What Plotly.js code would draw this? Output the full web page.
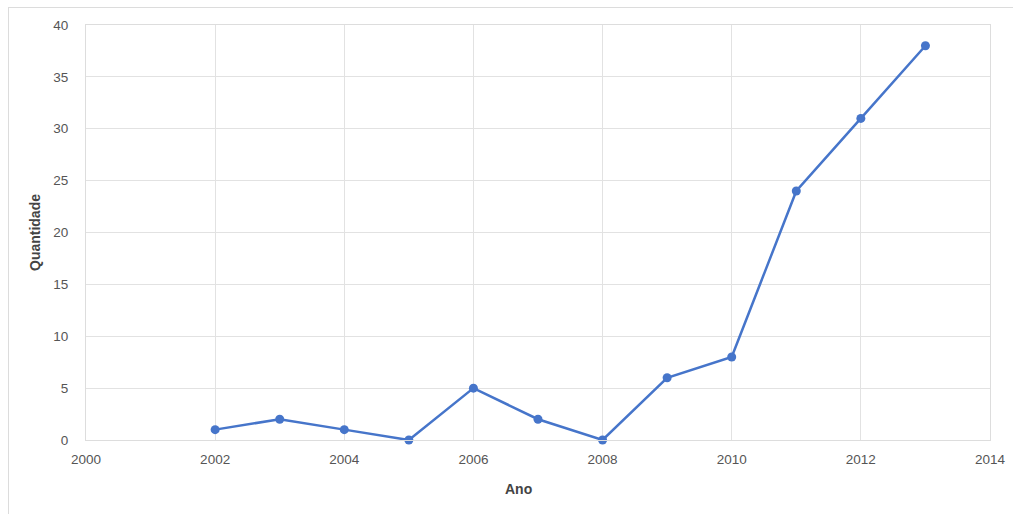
<!DOCTYPE html>
<html><head><meta charset="utf-8">
<script src="https://cdn.plot.ly/plotly-3.0.1.min.js"></script>
<style>
html,body{margin:0;padding:0;background:#fff;}
#chart{width:1013px;height:514px;}
#frame{position:absolute;left:8px;top:7px;width:1100px;height:600px;border-left:1px solid #dcdcdc;border-top:1px solid #dcdcdc;pointer-events:none;}
</style></head>
<body>
<div id="chart"></div>
<div id="frame"></div>
<script>
const anos = [2002, 2003, 2004, 2005, 2006, 2007, 2008, 2009, 2010, 2011, 2012, 2013];
const quantidade = [1, 2, 1, 0, 5, 2, 0, 6, 8, 24, 31, 38];
const xTicks = [2000, 2002, 2004, 2006, 2008, 2010, 2012, 2014];
const yTicks = [0, 5, 10, 15, 20, 25, 30, 35, 40];

const tickFont = {family: 'Liberation Sans, Arial, sans-serif', size: 13.5, color: '#555'};
const titleFont = {family: 'Liberation Sans, Arial, sans-serif', size: 14, color: '#444', weight: 'bold'};

Plotly.newPlot('chart', [{
  x: anos, y: quantidade, type: 'scatter', mode: 'lines+markers',
  line: {color: '#4675CA', width: 2.5},
  marker: {color: '#4675CA', size: 9},
  cliponaxis: false
}], {
  width: 1013, height: 514,
  margin: {l: 86, r: 23, t: 25, b: 74},
  paper_bgcolor: '#fff', plot_bgcolor: '#fff',
  showlegend: false,
  annotations: [{
    text: '<b>Ano</b>', xref: 'paper', yref: 'paper', x: 0.478, y: -0.118,
    xanchor: 'center', yanchor: 'middle', showarrow: false, font: titleFont
  }],
  xaxis: {
    range: [2000, 2014], tickvals: xTicks, ticktext: xTicks.map(String),
    showgrid: true, gridcolor: '#e2e2e2', gridwidth: 1,
    showline: true, linecolor: '#dddddd', linewidth: 1, mirror: true,
    zeroline: false, ticks: '', ticklabelstandoff: 7,
    tickfont: tickFont
  },
  yaxis: {
    range: [0, 40], tickvals: yTicks, ticktext: yTicks.map(String),
    showgrid: true, gridcolor: '#e2e2e2', gridwidth: 1,
    showline: true, linecolor: '#dddddd', linewidth: 1, mirror: true,
    zeroline: true, zerolinecolor: '#cccccc', zerolinewidth: 2,
    ticks: '', ticklabelstandoff: 14,
    tickfont: tickFont,
    title: {text: '<b>Quantidade</b>', font: titleFont, standoff: 9}
  }
}, {staticPlot: true, displayModeBar: false});
</script>
</body></html>
